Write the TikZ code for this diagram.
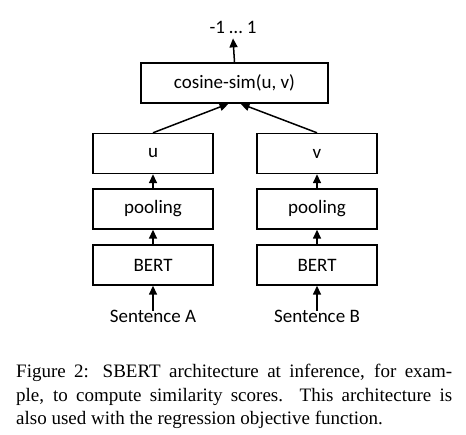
\documentclass[tikz,border=0pt]{standalone}
\usepackage{fontspec}
\setmainfont{Liberation Serif}
\newfontfamily\diafont{Carlito}
\usetikzlibrary{arrows.meta}
\begin{document}
\begin{tikzpicture}[x=1bp,y=-1bp,
  blk/.style={draw,line width=1.4bp,minimum width=120bp,minimum height=40bp,inner sep=0,font=\diafont\fontsize{19bp}{22bp}\selectfont},
  lbl/.style={inner sep=0,font=\diafont\fontsize{19bp}{22bp}\selectfont},
  arr/.style={line width=1.5bp,-{Triangle[width=8bp,length=9bp]}}]
\useasboundingbox[fill=white] (0,0) rectangle (466,435);
\node[lbl] (out) at (233,27) {-1 \dots\ 1};
\node[blk,minimum width=187bp] (cos) at (234.5,83) {cosine-sim(u, v)};
\node[blk] (u) at (153,153.5) {u};
\node[blk] (v) at (317,153.5) {v};
\node[blk] (pa) at (153,209) {pooling};
\node[blk] (pb) at (317,209) {pooling};
\node[blk] (ba) at (153,265) {BERT};
\node[blk] (bb) at (317,265) {BERT};
\node[lbl] (sa) at (153,316) {Sentence A};
\node[lbl] (sb) at (317,316) {Sentence B};
\draw[arr] (cos.north) -- ([yshift=-5bp]out.south);
\draw[arr] (u.north) -- ([xshift=-6bp]cos.south);
\draw[arr] (v.north) -- ([xshift=6bp]cos.south);
\draw[arr] (pa) -- (u);
\draw[arr] (pb) -- (v);
\draw[arr] (ba) -- (pa);
\draw[arr] (bb) -- (pb);
\draw[arr] ([yshift=-1bp]sa.north) -- (ba.south);
\draw[arr] ([yshift=-1bp]sb.north) -- (bb.south);
\node[anchor=north west,inner sep=0,text width=436bp,align=justify,font=\fontsize{19bp}{23.5bp}\selectfont] (cap) at (16,364)
 {Figure 2: SBERT architecture at inference, for exam-\linebreak ple, to compute similarity scores. This architecture is\linebreak also used with the regression objective function.};
\end{tikzpicture}
\end{document}
